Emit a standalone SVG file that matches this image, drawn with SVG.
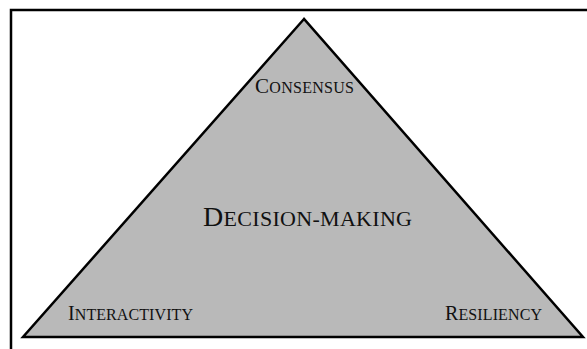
<svg xmlns="http://www.w3.org/2000/svg" width="587" height="349" viewBox="0 0 587 349">
<style>
.lbl{font-family:"Liberation Serif","Times New Roman",serif;fill:#111111}
.sm{font-size:16px}
.big{font-size:22px}
</style>
<rect x="0" y="0" width="587" height="349" fill="#ffffff"/>
<g id="frame"><polyline points="11,352 11,10 590,10" fill="none" stroke="#000" stroke-width="2.5"/></g>
<g id="triangle"><polygon points="304,19 23,337 583,337" fill="#b9b9b9" stroke="#000" stroke-width="2.5" stroke-linejoin="miter"/></g>
<g id="consensus"><text class="lbl" x="255" y="93" font-size="21" textLength="99" lengthAdjust="spacing">C<tspan class="sm">ONSENSUS</tspan></text></g>
<g id="decision-making"><text class="lbl" x="203" y="226" font-size="28" textLength="209" lengthAdjust="spacing">D<tspan class="big">ECISION-MAKING</tspan></text></g>
<g id="interactivity"><text class="lbl" x="68" y="320" font-size="20" textLength="125" lengthAdjust="spacing">I<tspan class="sm">NTERACTIVITY</tspan></text></g>
<g id="resiliency"><text class="lbl" x="445" y="320" font-size="20" textLength="97" lengthAdjust="spacing">R<tspan class="sm">ESILIENCY</tspan></text></g>
<g id="connectors"></g>
</svg>
